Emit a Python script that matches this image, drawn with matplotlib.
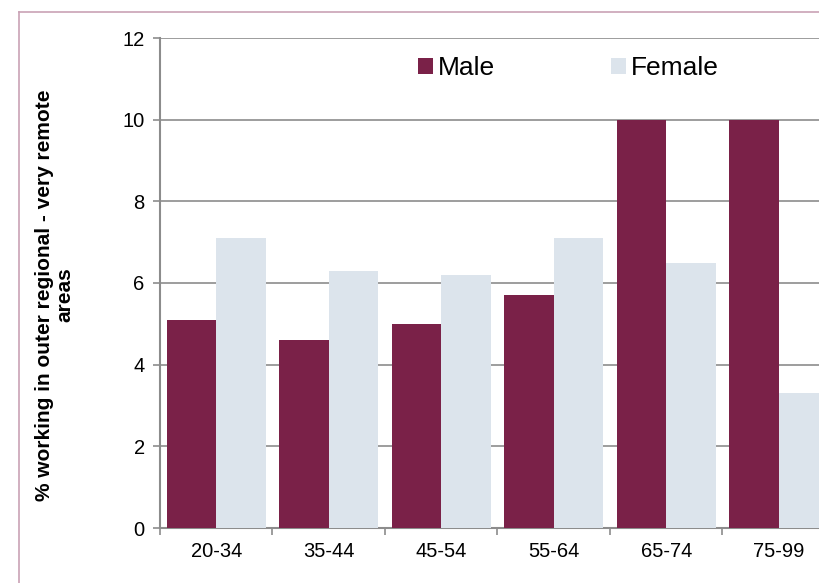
import numpy as np
import matplotlib.pyplot as plt
from matplotlib.lines import Line2D

plt.rcParams['font.family'] = ['Liberation Sans', 'DejaVu Sans']

# data
age_groups = ['20-34', '35-44', '45-54', '55-64', '65-74', '75-99']
male = [5.1, 4.6, 5.0, 5.7, 10.0, 10.0]
female = [7.1, 6.3, 6.2, 7.1, 6.5, 3.3]

male_color = '#7A2148'
female_color = '#DCE4EC'
axis_color = '#8C8C8C'

W, H = 820, 583
fig = plt.figure(figsize=(W / 100, H / 100), dpi=100)

# outer chart border (the reference is cropped on right and bottom)
bx, by = 19.5 / W, 1 - 11.5 / H
fig.lines.append(Line2D([bx, bx], [0, by], transform=fig.transFigure,
                        color='#C9A2B5', linewidth=1.2))
fig.lines.append(Line2D([bx, 1], [by, by], transform=fig.transFigure,
                        color='#C9A2B5', linewidth=1.2))

# axes run past the right edge like in the reference
ax = fig.add_axes([160 / W, 55 / H, 675 / W, 490 / H])
x = np.arange(len(age_groups))
bw = 0.44
ax.bar(x - bw / 2, male, bw, color=male_color, label='Male', zorder=3)
ax.bar(x + bw / 2, female, bw, color=female_color, label='Female', zorder=3)

ax.set_xlim(-0.5, len(age_groups) - 0.5)
ax.set_ylim(0, 12)
ax.set_yticks(np.arange(0, 13, 2))
ax.yaxis.grid(True, color=axis_color, linewidth=1.2, zorder=0)
ax.set_axisbelow(True)

ax.set_xticks(x)
ax.set_xticklabels(age_groups)
ax.set_xticks(np.arange(-0.5, len(age_groups)), minor=True)
ax.tick_params(axis='x', which='major', length=0, pad=10, labelsize=14.5)
ax.tick_params(axis='x', which='minor', length=5, width=1.2, color=axis_color)
ax.tick_params(axis='y', length=5, width=1.2, color=axis_color, pad=6, labelsize=14.5)

for s in ['top', 'right']:
    ax.spines[s].set_visible(False)
for s in ['left', 'bottom']:
    ax.spines[s].set_color(axis_color)
    ax.spines[s].set_linewidth(1.5)

fig.text(55 / W, 1 - 295 / H, '% working in outer regional - very remote\nareas',
         rotation=90, ha='center', va='center', fontsize=15, fontweight='bold',
         linespacing=1.1)

ax.legend(loc='center left', bbox_to_anchor=(418 / W, 1 - 68 / H),
          bbox_transform=fig.transFigure, ncol=2, frameon=False, fontsize=19,
          handlelength=0.55, handleheight=0.55, handletextpad=0.2,
          columnspacing=4.4, borderpad=0, borderaxespad=0)

fig.savefig('out.png', dpi=100)
